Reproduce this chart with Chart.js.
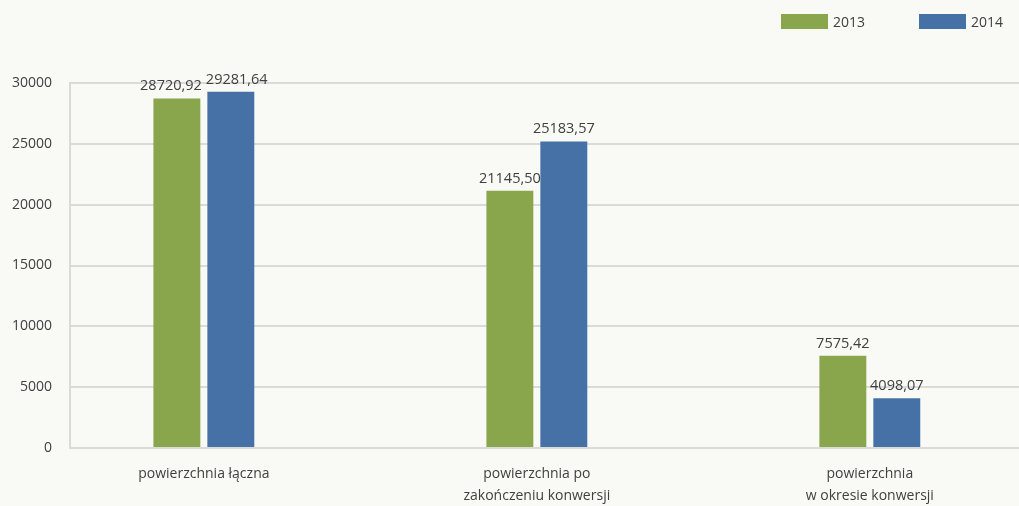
<!DOCTYPE html>
<html>
<head>
<meta charset="utf-8">
<script src="https://cdn.jsdelivr.net/npm/chart.js@4/dist/chart.umd.min.js"></script>
<style>
  html, body { margin: 0; padding: 0; background: #f9faf5; }
  #wrap { position: relative; width: 1019px; height: 506px; }
  #legend { position: absolute; top: 14px; left: 781px; display: flex; font: 14px 'Open Sans', sans-serif; color: #404040; }
  #legend .item { display: flex; align-items: center; width: 138px; height: 15px; }
  #legend .box { width: 47px; height: 15px; margin-right: 5px; }
</style>
</head>
<body>
<div id="wrap">
  <canvas id="chart" width="1019" height="506"></canvas>
  <div id="legend"></div>
</div>
<script>
const categories = [
  ['powierzchnia łączna'],
  ['powierzchnia po', 'zakończeniu konwersji'],
  ['powierzchnia', 'w okresie konwersji'],
]
const seriesNames = ['2013', '2014']
const values2013 = [28720.92, 21145.50, 7575.42]
const values2014 = [29281.64, 25183.57, 4098.07]
const yTicks = [0, 5000, 10000, 15000, 20000, 25000, 30000]
const colors = ['#8aa64c', '#4671a6']

const textColor = '#404040'
const gridColor = '#dadbd8'
const fontFamily = "'Open Sans', sans-serif"

const fmt = v => v.toFixed(2).replace('.', ',')

// value labels above the bars, pushed apart a little when neighbours overlap
const barLabels = {
  id: 'barLabels',
  afterDatasetsDraw(chart) {
    const ctx = chart.ctx
    ctx.save()
    ctx.font = `14.5px ${fontFamily}`
    ctx.fillStyle = textColor
    ctx.textAlign = 'center'
    ctx.textBaseline = 'bottom'
    const metas = chart.data.datasets.map((_, i) => chart.getDatasetMeta(i))
    categories.forEach((_, idx) => {
      const items = metas.map((m, d) => {
        const el = m.data[idx]
        const text = fmt(chart.data.datasets[d].data[idx].y)
        return { x: el.x, y: el.y - 5, text, w: ctx.measureText(text).width }
      })
      for (let k = 1; k < items.length; k++) {
        const a = items[k - 1], b = items[k]
        const overlap = (a.x + a.w / 2) - (b.x - b.w / 2) + 4
        if (overlap > 0 && Math.abs(a.y - b.y) < 16) {
          a.x -= overlap / 2
          b.x += overlap / 2
        }
      }
      items.forEach(it => ctx.fillText(it.text, it.x, it.y))
    })
    ctx.restore()
  },
}

const datasets = [values2013, values2014].map((vals, i) => ({
  label: seriesNames[i],
  data: vals.map((v, j) => ({ x: j, y: v })),
  backgroundColor: colors[i],
  categoryPercentage: 0.324,
  barPercentage: 0.87,
}))

new Chart(document.getElementById('chart'), {
  type: 'bar',
  data: { datasets },
  plugins: [barLabels],
  options: {
    responsive: false,
    animation: false,
    layout: { padding: { top: 83, left: 0, right: 0, bottom: 0 } },
    plugins: {
      legend: { display: false },
      tooltip: { enabled: false },
    },
    scales: {
      x: {
        type: 'linear',
        offset: false,
        min: -0.402,
        max: 2.448,
        afterBuildTicks: s => { s.ticks = categories.map((_, i) => ({ value: i })) },
        afterFit: s => { s.height = 58 },
        grid: { display: false, drawTicks: false },
        border: { display: false },
        ticks: {
          callback: v => categories[v],
          color: textColor,
          font: { family: fontFamily, size: 14, lineHeight: 1.55 },
          padding: 15,
          maxRotation: 0,
          autoSkip: false,
        },
      },
      y: {
        min: 0,
        max: 30000,
        afterBuildTicks: s => { s.ticks = yTicks.map(v => ({ value: v })) },
        afterFit: s => { s.width = 70 },
        grid: { color: gridColor, lineWidth: 2, drawTicks: false },
        border: { display: true, color: gridColor, width: 2 },
        ticks: {
          callback: v => String(v),
          color: textColor,
          font: { family: fontFamily, size: 14 },
          padding: 18,
        },
      },
    },
  },
})

const legend = document.getElementById('legend')
seriesNames.forEach((name, i) => {
  const item = document.createElement('div')
  item.className = 'item'
  item.innerHTML = `<span class="box" style="background:${colors[i]}"></span><span>${name}</span>`
  legend.appendChild(item)
})
</script>
</body>
</html>
